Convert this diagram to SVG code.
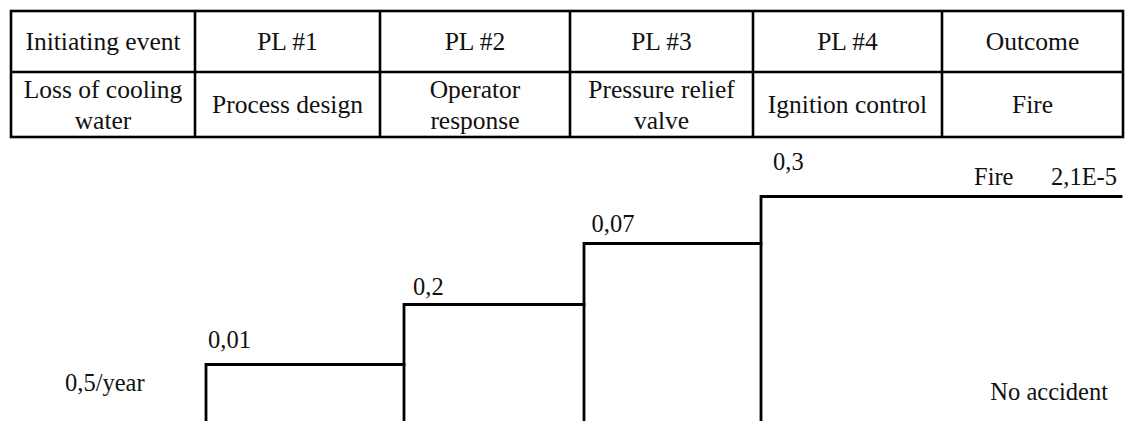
<svg xmlns="http://www.w3.org/2000/svg" width="1125" height="421" viewBox="0 0 1125 421">
<style>
  .grid { fill: none; stroke: #000; stroke-width: 2.6; }
  .step { fill: none; stroke: #000; stroke-width: 2.8; stroke-linejoin: miter; stroke-linecap: square; }
  text { font-family: 'Liberation Serif', 'Times New Roman', Times, 'Nimbus Roman', 'Noto Serif', 'DejaVu Serif', FreeSerif, serif; fill: #111; }
  .t { font-size: 25.5px; text-anchor: middle; }
  .s { font-size: 24.5px; }
</style>
<rect width="1125" height="421" fill="#fff"/>
<g id="table">
  <rect class="grid" x="11" y="11" width="1112" height="126"/>
  <line class="grid" x1="11" y1="72" x2="1123" y2="72"/>
  <line class="grid" x1="195" y1="11" x2="195" y2="137"/>
  <line class="grid" x1="380" y1="11" x2="380" y2="137"/>
  <line class="grid" x1="570" y1="11" x2="570" y2="137"/>
  <line class="grid" x1="753" y1="11" x2="753" y2="137"/>
  <line class="grid" x1="942" y1="11" x2="942" y2="137"/>
</g>
<g id="header">
  <text class="t" x="103" y="50">Initiating event</text>
  <text class="t" x="287.5" y="50">PL #1</text>
  <text class="t" x="475" y="50">PL #2</text>
  <text class="t" x="661.5" y="50">PL #3</text>
  <text class="t" x="847.5" y="50">PL #4</text>
  <text class="t" x="1032.5" y="50">Outcome</text>
</g>
<g id="row2">
  <text class="t" x="103" y="97.5">Loss of cooling</text>
  <text class="t" x="103" y="128.5">water</text>
  <text class="t" x="287.5" y="113">Process design</text>
  <text class="t" x="475" y="97.5">Operator</text>
  <text class="t" x="475" y="128.5">response</text>
  <text class="t" x="661.5" y="97.5">Pressure relief</text>
  <text class="t" x="661.5" y="128.5">valve</text>
  <text class="t" x="847.5" y="113">Ignition control</text>
  <text class="t" x="1032.5" y="113">Fire</text>
</g>
<g id="connectors">
  <polyline class="step" points="206,421 206,364.5 404,364.5"/>
  <polyline class="step" points="404,421 404,304.5 584,304.5"/>
  <polyline class="step" points="584,421 584,243.5 761,243.5"/>
  <polyline class="step" points="761,421 761,196.5 1121,196.5"/>
</g>
<g id="labels">
  <text class="s" x="65" y="391">0,5/year</text>
  <text class="s" x="208" y="347.5">0,01</text>
  <text class="s" x="413" y="295">0,2</text>
  <text class="s" x="591.5" y="231.5">0,07</text>
  <text class="s" x="773" y="170">0,3</text>
  <text class="s" x="974" y="185">Fire</text>
  <text class="s" x="1117" y="185" text-anchor="end">2,1E-5</text>
  <text class="s" x="1108" y="399.5" text-anchor="end">No accident</text>
</g>
</svg>
